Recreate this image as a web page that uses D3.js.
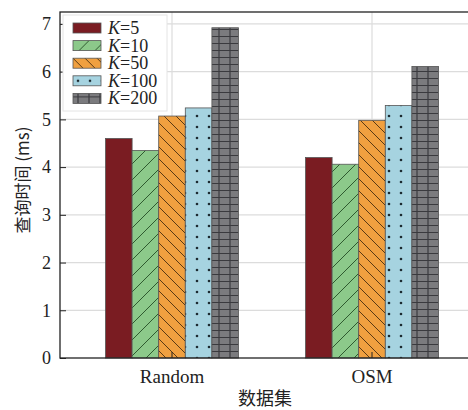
<!DOCTYPE html>
<html>
<head>
<meta charset="utf-8">
<script src="https://cdn.jsdelivr.net/npm/d3@7"></script>
<style>
  body { margin: 0; background: #fff; }
  svg { display: block; }
</style>
</head>
<body>
<div id="chart"></div>
<script>
// data
const datasets = ['Random', 'OSM']
const kLabels = ['5', '10', '50', '100', '200']
const kRandom = [4.6, 4.35, 5.07, 5.24, 6.92]
const kOSM = [4.2, 4.06, 4.98, 5.29, 6.11]
const yTicks = [0, 1, 2, 3, 4, 5, 6, 7]

// style
const fills = ['#7a1c22', '#8cc98a', '#f0a040', '#a6d3e0', '#7b7b7e']
const serif = '"Liberation Serif", "Times New Roman", serif'
const cjk = '"Noto Sans CJK SC", sans-serif'

const width = 468, height = 410
// the right edge of the frame falls outside the picture, as in the original
const margin = { top: 12, right: -16, bottom: 52, left: 60 }
const innerW = width - margin.left - margin.right
const innerH = height - margin.top - margin.bottom

const svg = d3.select('#chart').append('svg')
  .attr('width', width)
  .attr('height', height)

// patterns
const defs = svg.append('defs')
const pGreen = defs.append('pattern').attr('id', 'p1')
  .attr('patternUnits', 'userSpaceOnUse').attr('width', 16).attr('height', 16)
pGreen.append('rect').attr('width', 16).attr('height', 16).attr('fill', fills[1])
pGreen.append('path').attr('d', 'M-4,4L4,-4M0,16L16,0M12,20L20,12')
  .attr('stroke', '#2f5a2f').attr('stroke-width', 1)

const pOrange = defs.append('pattern').attr('id', 'p2')
  .attr('patternUnits', 'userSpaceOnUse').attr('width', 12).attr('height', 12)
pOrange.append('rect').attr('width', 12).attr('height', 12).attr('fill', fills[2])
pOrange.append('path').attr('d', 'M-3,9L3,15M0,0L12,12M9,-3L15,3')
  .attr('stroke', '#5a3a14').attr('stroke-width', 1)

const pBlue = defs.append('pattern').attr('id', 'p3')
  .attr('patternUnits', 'userSpaceOnUse').attr('width', 12).attr('height', 11)
pBlue.append('rect').attr('width', 12).attr('height', 11).attr('fill', fills[3])
pBlue.append('circle').attr('cx', 5).attr('cy', 5).attr('r', 1.3).attr('fill', '#1c2a30')

const pGrey = defs.append('pattern').attr('id', 'p4')
  .attr('patternUnits', 'userSpaceOnUse').attr('width', 11).attr('height', 7)
pGrey.append('rect').attr('width', 11).attr('height', 7).attr('fill', fills[4])
pGrey.append('path').attr('d', 'M5,0V7M0,3.5H11')
  .attr('stroke', '#3a3a3e').attr('stroke-width', 1.2)

const fillRef = ['#7a1c22', 'url(#p1)', 'url(#p2)', 'url(#p3)', 'url(#p4)']

const g = svg.append('g')
  .attr('transform', `translate(${margin.left},${margin.top})`)

// scales
const xs = d3.scaleBand().domain(datasets).range([0, innerW]).paddingInner(0.335).paddingOuter(0.2275)
const xk = d3.scaleBand().domain(kLabels).range([0, xs.bandwidth()])
const ys = d3.scaleLinear().domain([0, 7.25]).range([innerH, 0])

// grid
g.append('g').selectAll('line').data(yTicks.slice(1)).join('line')
  .attr('x1', 0).attr('x2', innerW)
  .attr('y1', d => ys(d)).attr('y2', d => ys(d))
  .attr('stroke', '#dcdcdc').attr('stroke-width', 1.2)
g.append('g').selectAll('line').data(datasets).join('line')
  .attr('x1', d => xs(d) + xs.bandwidth() / 2).attr('x2', d => xs(d) + xs.bandwidth() / 2)
  .attr('y1', 0).attr('y2', innerH)
  .attr('stroke', '#dcdcdc').attr('stroke-width', 1.2)

// bars
const series = [kRandom, kOSM]
datasets.forEach((ds, i) => {
  g.append('g').selectAll('rect').data(series[i]).join('rect')
    .attr('x', (d, j) => xs(ds) + xk(kLabels[j]))
    .attr('y', d => ys(d))
    .attr('width', xk.bandwidth())
    .attr('height', d => innerH - ys(d))
    .attr('fill', (d, j) => fillRef[j])
    .attr('stroke', '#555').attr('stroke-width', 0.8)
})

// axes
const yAxis = g.append('g')
  .call(d3.axisLeft(ys).tickValues(yTicks).tickSize(-6).tickPadding(9).tickFormat(d3.format('d')))
yAxis.select('.domain').remove()
yAxis.selectAll('.tick line').attr('stroke', '#222')
yAxis.selectAll('text').attr('font-family', serif).attr('font-size', 18).attr('fill', '#222')

const xAxis = g.append('g')
  .attr('transform', `translate(0,${innerH})`)
  .call(d3.axisBottom(xs).tickSize(-6).tickPadding(12))
xAxis.select('.domain').remove()
xAxis.selectAll('.tick line').attr('stroke', '#222')
xAxis.selectAll('text').attr('font-family', serif).attr('font-size', 19).attr('fill', '#222')

// frame
g.append('rect')
  .attr('width', innerW).attr('height', innerH)
  .attr('fill', 'none').attr('stroke', '#222').attr('stroke-width', 1.3)

// legend
const legend = g.append('g').attr('transform', 'translate(3,3)')
legend.append('rect')
  .attr('width', 104).attr('height', 96)
  .attr('fill', '#fff').attr('stroke', '#e4e4e4')
kLabels.forEach((k, i) => {
  const row = legend.append('g').attr('transform', `translate(10,${8 + i * 17.6})`)
  row.append('rect').attr('width', 28).attr('height', 10)
    .attr('fill', fillRef[i]).attr('stroke', '#555').attr('stroke-width', 0.8)
  const t = row.append('text').attr('x', 35).attr('y', 11)
    .attr('font-family', serif).attr('font-size', 18).attr('fill', '#222')
  t.append('tspan').attr('font-style', 'italic').text('K')
  t.append('tspan').text('=' + k)
})

// titles
svg.append('text')
  .attr('transform', `translate(24,180) rotate(-90)`)
  .attr('text-anchor', 'middle')
  .attr('dominant-baseline', 'middle')
  .attr('font-family', cjk).attr('font-size', 17).attr('fill', '#222')
  .text('查询时间 (ms)')
svg.append('text')
  .attr('x', 265).attr('y', 405)
  .attr('text-anchor', 'middle')
  .attr('font-family', cjk).attr('font-size', 18).attr('fill', '#222')
  .text('数据集')
</script>
</body>
</html>
